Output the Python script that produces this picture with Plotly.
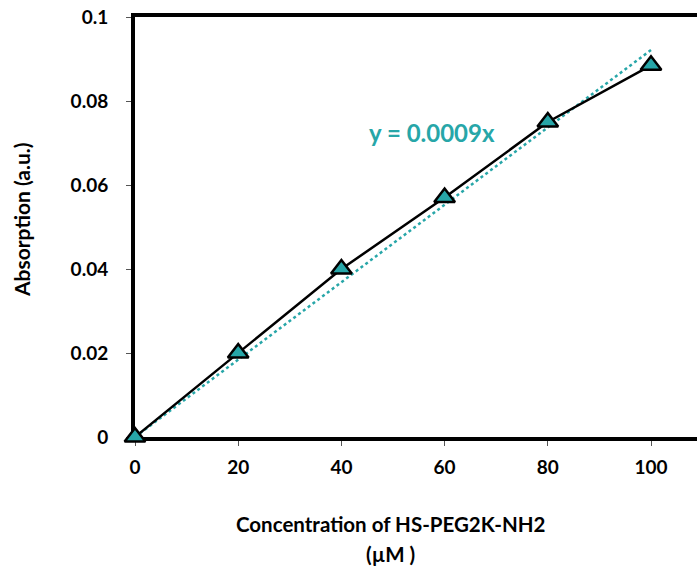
import plotly.graph_objects as go

# Calibration data: concentration (µM) vs absorption (a.u.)
concentration = [0, 20, 40, 60, 80, 100]
absorption = [0.0, 0.020, 0.040, 0.057, 0.075, 0.0885]
y_ticks = [0, 0.02, 0.04, 0.06, 0.08, 0.1]
y_tick_text = ["0", "0.02", "0.04", "0.06", "0.08", "0.1"]
x_ticks = [0, 20, 40, 60, 80, 100]

# Least-squares linear fit forced through the origin
slope = sum(x * y for x, y in zip(concentration, absorption)) / sum(x * x for x in concentration)
fit_x = [0, 100]
fit_y = [slope * x for x in fit_x]

TEAL = "#27A6A8"
FONT = "Lato"

# Figure geometry (pixels)
W, H = 697, 568
ML, MR, MT, MB = 135, 0, 17, 131
plot_w = W - ML - MR
plot_h = H - MT - MB


def px_to_paper(px, py):
    return (px - ML) / plot_w, (H - MB - py) / plot_h


fig = go.Figure()
fig.add_trace(go.Scatter(
    x=fit_x, y=fit_y, mode="lines",
    line=dict(color=TEAL, width=2.5, dash="dot"),
    hoverinfo="skip", showlegend=False,
))
fig.add_trace(go.Scatter(
    x=concentration, y=absorption, mode="lines+markers",
    line=dict(color="black", width=2.5),
    marker=dict(symbol="triangle-up", size=18, color=TEAL,
                line=dict(color="black", width=2.5)),
    cliponaxis=False, showlegend=False,
))

fig.add_annotation(
    x=45, y=0.0725, xref="x", yref="y", xanchor="left", yanchor="middle",
    text=f"<b>y = {slope:.4f}x</b>", showarrow=False,
    font=dict(family=FONT, size=24, color=TEAL),
)

tx, ty = px_to_paper(390, 524)
fig.add_annotation(
    x=tx, y=ty, xref="paper", yref="paper", xanchor="center", yanchor="middle",
    text="<b>Concentration of HS-PEG2K-NH2</b>", showarrow=False,
    font=dict(family=FONT, size=20.5, color="black"),
)
tx, ty = px_to_paper(390, 554)
fig.add_annotation(
    x=tx, y=ty, xref="paper", yref="paper", xanchor="center", yanchor="middle",
    text="<b>(µM )</b>", showarrow=False,
    font=dict(family=FONT, size=20.5, color="black"),
)
tx, ty = px_to_paper(22, 220)
fig.add_annotation(
    x=tx, y=ty, xref="paper", yref="paper", xanchor="center", yanchor="middle",
    text="<b>Absorption (a.u.)</b>", showarrow=False, textangle=-90,
    font=dict(family=FONT, size=21, color="black"),
)

x_max = 100 * plot_w / 516

fig.update_layout(
    width=W, height=H,
    margin=dict(l=ML, r=MR, t=MT, b=MB),
    paper_bgcolor="white", plot_bgcolor="white",
    font=dict(family=FONT, size=18, color="black"),
    xaxis=dict(
        range=[0, x_max], tickvals=x_ticks, ticks="outside", ticklen=5,
        tickwidth=1, tickcolor="#555", showline=True, linecolor="black",
        linewidth=4, mirror=True, showgrid=False, zeroline=False,
        layer="below traces",
        tickfont=dict(family=FONT, size=19, color="black", weight="bold"),
        ticklabelstandoff=5,
    ),
    yaxis=dict(
        range=[0, 0.1], tickvals=y_ticks, ticktext=y_tick_text,
        ticks="outside", ticklen=5, tickwidth=1, tickcolor="#555",
        showline=True, linecolor="black", linewidth=4, mirror=False,
        showgrid=False, zeroline=False, layer="below traces",
        tickfont=dict(family=FONT, size=19, color="black", weight="bold"),
        ticklabelstandoff=14,
    ),
)

fig.write_html("out.html")
